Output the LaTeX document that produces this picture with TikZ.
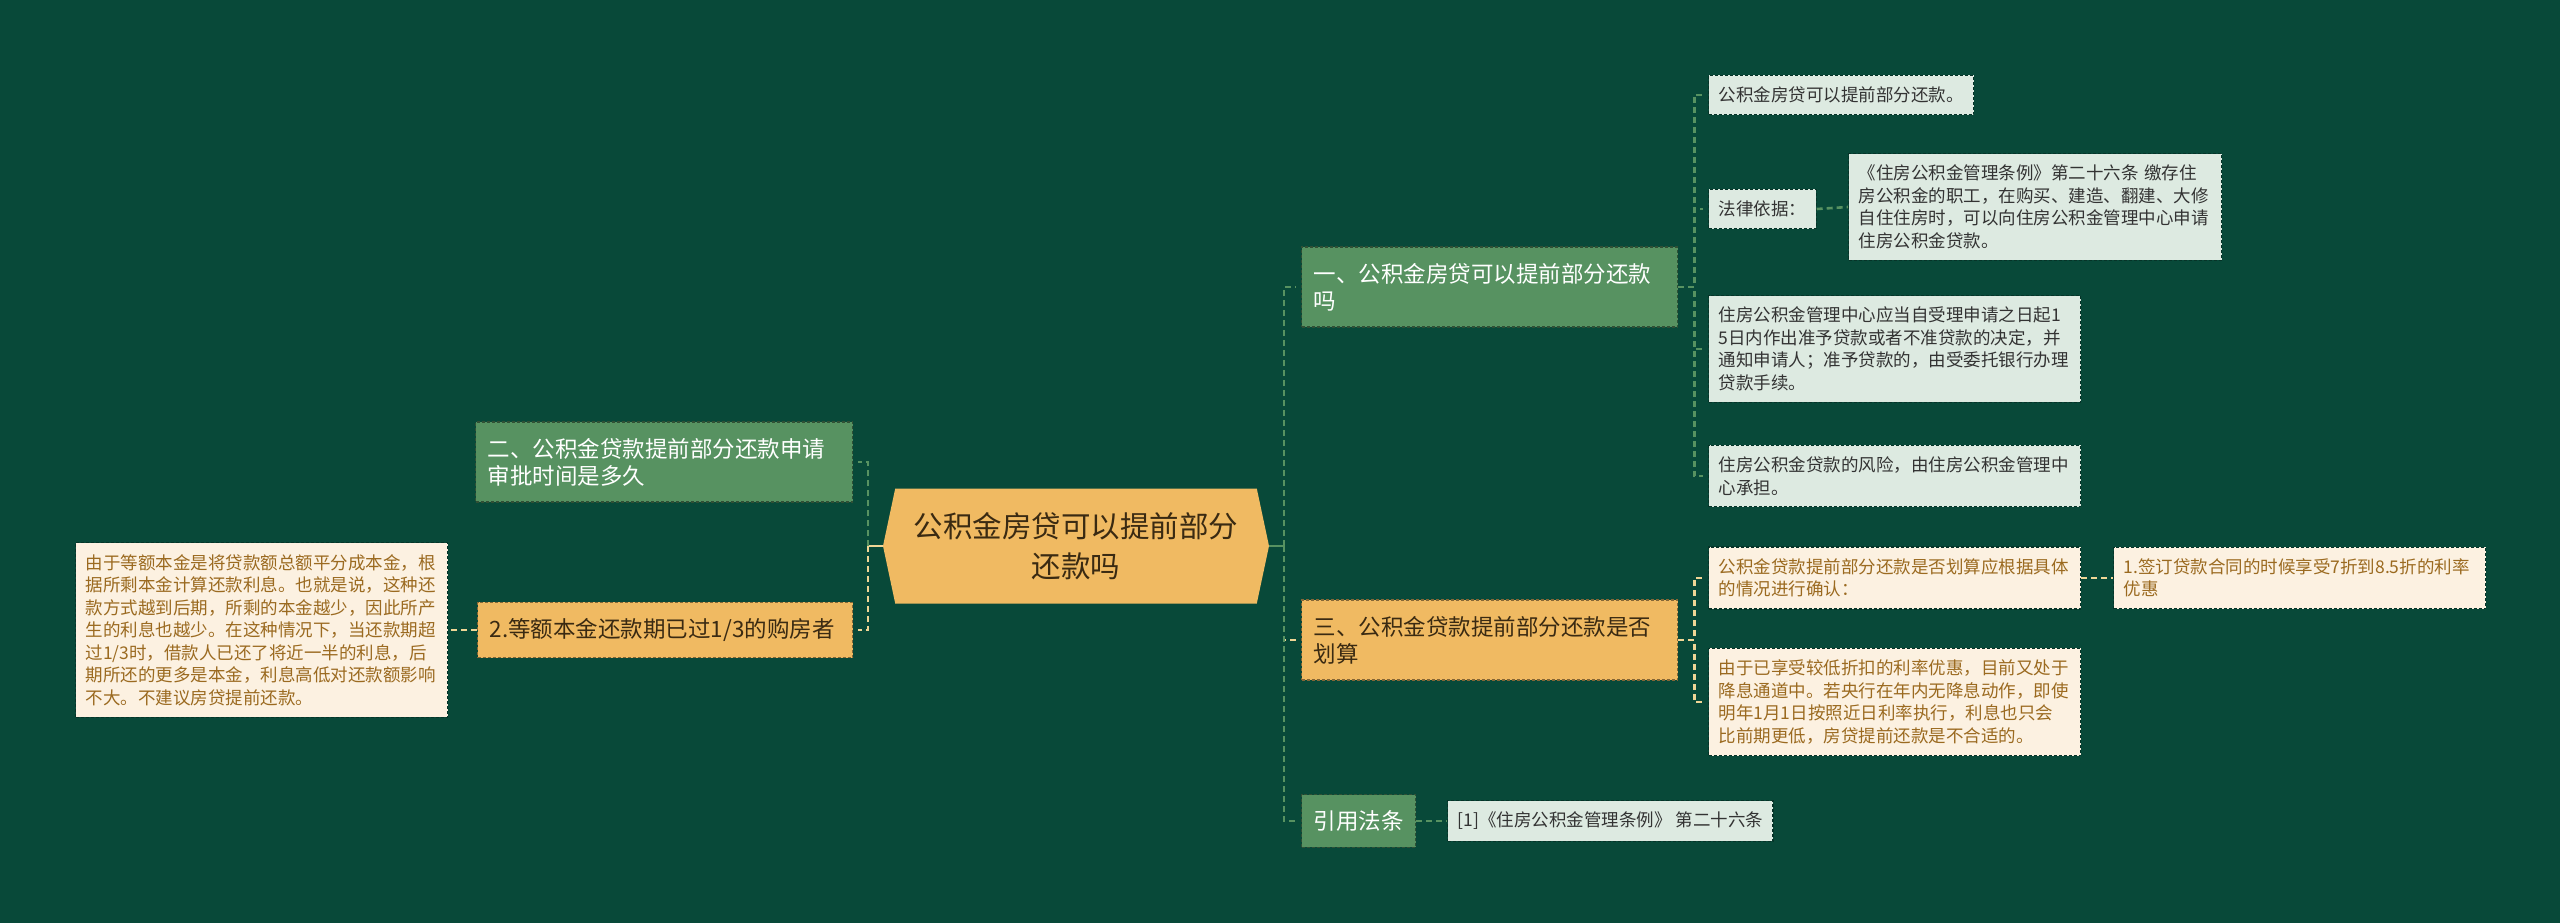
\documentclass[tikz,border=0pt]{standalone}
\usepackage{fontspec}
\setmainfont{Noto Sans CJK SC}
\definecolor{MapBg}{RGB}{8,73,57}
\definecolor{MapGreen}{RGB}{87,146,97}
\definecolor{MapOrange}{RGB}{240,186,98}
\definecolor{MapMint}{RGB}{221,234,225}
\definecolor{MapCream}{RGB}{252,241,225}
\definecolor{MapGold}{RGB}{155,106,32}
\definecolor{MapInk}{RGB}{51,51,51}
\definecolor{MapBrown}{RGB}{58,42,18}
\definecolor{MapLine}{RGB}{240,214,150}
\usetikzlibrary{
    shapes.symbols,
    positioning,
}

\begin{document}
\begin{tikzpicture}[x=1pt, y=-1pt,
        topic/.style={rectangle, anchor=west, align=left, inner xsep=12pt, inner ysep=16pt,
            line width=1.2pt, dash pattern=on 3pt off 2pt, font=\fontsize{22.5}{27}\selectfont},
        gtopic/.style={topic, fill=MapGreen, draw=MapGreen!55!black, text=white},
        otopic/.style={topic, fill=MapOrange, draw=MapOrange!55!black, text=MapBrown},
        leaf/.style={rectangle, anchor=west, align=left, inner xsep=10pt, inner ysep=11.5pt,
            line width=1.2pt, dash pattern=on 3pt off 2pt, font=\fontsize{17.5}{22.5}\selectfont},
        mleaf/.style={leaf, fill=MapMint, draw=MapBg!70!black, text=MapInk},
        cleaf/.style={leaf, fill=MapCream, draw=MapBg!70!black, text=MapGold},
        link/.style={draw=#1, line width=2.6pt, dash pattern=on 6pt off 4pt, shorten >=5pt},
        stubline/.style={draw=#1, line width=2.6pt},
    ]
    \fill[MapBg] (0,0) rectangle (2560,923);
    \useasboundingbox (0,0) rectangle (2560,923);

    % root
    \node[signal, signal to=east and west, signal pointer angle=156, fill=MapOrange,
        minimum width=386pt, minimum height=115pt, align=center, text=MapBrown,
        font=\fontsize{29.5}{40}\selectfont] (root) at (1076,546) {公积金房贷可以提前部分\\还款吗};
    \coordinate (lj) at (868,546);
    \coordinate (rj) at (1284,546);

    % left side
    \node[gtopic, text width=353pt] (b2) at (475,462) {二、公积金贷款提前部分还款申请\\审批时间是多久};
    \node[otopic, text width=351pt] (b4) at (477,630) {2.等额本金还款期已过1/3的购房者};
    \node[cleaf, text width=352pt] (c) at (75,630) {由于等额本金是将贷款额总额平分成本金，根\\据所剩本金计算还款利息。也就是说，这种还\\款方式越到后期，所剩的本金越少，因此所产\\生的利息也越少。在这种情况下，当还款期超\\过1/3时，借款人已还了将近一半的利息，后\\期所还的更多是本金，利息高低对还款额影响\\不大。不建议房贷提前还款。};

    % right side
    \node[gtopic, text width=352pt] (r1) at (1301,287) {一、公积金房贷可以提前部分还款\\吗};
    \node[otopic, text width=352pt] (r3) at (1301,640) {三、公积金贷款提前部分还款是否\\划算};
    \node[gtopic] (r4) at (1301,821) {引用法条};

    \node[mleaf] (a1) at (1708,95) {公积金房贷可以提前部分还款。};
    \node[mleaf] (a2) at (1708,209) {法律依据：};
    \node[mleaf, text width=353pt] (law) at (1848,207) {《住房公积金管理条例》第二十六条 缴存住\\房公积金的职工，在购买、建造、翻建、大修\\自住住房时，可以向住房公积金管理中心申请\\住房公积金贷款。};
    \node[mleaf, text width=352pt] (a3) at (1708,349) {住房公积金管理中心应当自受理申请之日起1\\5日内作出准予贷款或者不准贷款的决定，并\\通知申请人；准予贷款的，由受委托银行办理\\贷款手续。};
    \node[mleaf, text width=352pt] (a4) at (1708,476) {住房公积金贷款的风险，由住房公积金管理中\\心承担。};

    \node[cleaf, text width=352pt] (c1) at (1708,578) {公积金贷款提前部分还款是否划算应根据具体\\的情况进行确认：};
    \node[cleaf, text width=352pt] (c1b) at (2113,578) {1.签订贷款合同的时候享受7折到8.5折的利率\\优惠};
    \node[cleaf, text width=352pt] (c2) at (1708,702) {由于已享受较低折扣的利率优惠，目前又处于\\降息通道中。若央行在年内无降息动作，即使\\明年1月1日按照近日利率执行，利息也只会\\比前期更低，房贷提前还款是不合适的。};

    \node[mleaf] (d1) at (1447,821) {[1]《住房公积金管理条例》 第二十六条};

    % connectors
    \draw[stubline=MapLine] (root.west) -- (lj);
    \draw[stubline=MapGreen] (root.east) -- (rj);
    \draw[link=MapGreen] (lj) |- (b2.east);
    \draw[link=MapLine] (lj) |- (b4.east);
    \draw[link=MapLine, shorten >=0pt] (b4.west) -- (c.east);
    \draw[link=MapLine] (rj) |- (r3.west);
    \draw[link=MapGreen] (rj) |- (r1.west);
    \draw[link=MapGreen] (rj) |- (r4.west);
    \draw[link=MapGreen, shorten >=0pt] (r4.east) -- (d1.west);
    \foreach \n in {a1,a2,a3,a4}
        \draw[link=MapGreen] (r1.east) -- ++(16,0) |- (\n.west);
    \draw[link=MapGreen, shorten >=0pt] (a2.east) -- (law.west);
    \foreach \n in {c1,c2}
        \draw[link=MapLine] (r3.east) -- ++(16,0) |- (\n.west);
    \draw[link=MapLine, shorten >=0pt] (c1.east) -- (c1b.west);
\end{tikzpicture}
\end{document}
